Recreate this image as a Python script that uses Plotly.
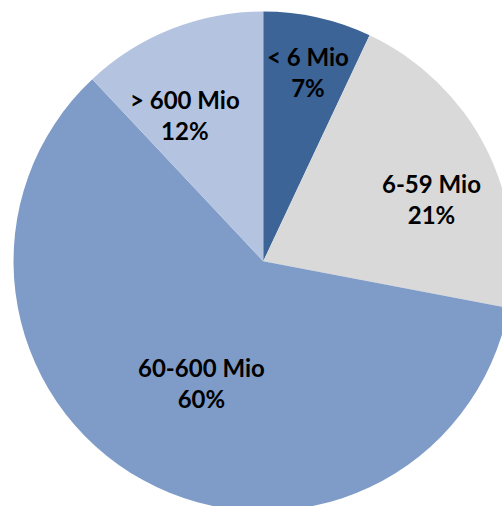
import math
import html
import plotly.graph_objects as go

# Data
categories = ["< 6 Mio", "6-59 Mio", "60-600 Mio", "> 600 Mio"]
values = [7, 21, 60, 12]

# Style
colors = ["#3C6496", "#D9D9D9", "#7F9CC8", "#B4C4E0"]
label_rfrac = [0.78, 0.72, 0.545, 0.665]
label_angle_offset = [0.6, 6.7, -1.9, -6.4]

W, H = 513, 511
x0 = 13.5 / W
ytop = 499.5 / H

fig = go.Figure(go.Pie(
    labels=categories,
    values=values,
    sort=False,
    direction="clockwise",
    rotation=0,
    marker=dict(colors=colors, line=dict(width=0)),
    textinfo="none",
    hoverinfo="label+percent",
    domain=dict(x=[x0, 1], y=[0, ytop]),
    showlegend=False,
))

# label positions computed from the data angles
cx_px = 13.5 + 499.5 / 2
cy_px = (H - 499.5) + 499.5 / 2
R = 499.5 / 2
total = sum(values)
cum = 0
for i, (lab, v) in enumerate(zip(categories, values)):
    mid = (cum + v / 2) / total * 360 + label_angle_offset[i]
    cum += v
    r = R * label_rfrac[i]
    px = cx_px + r * math.sin(math.radians(mid))
    py = cy_px - r * math.cos(math.radians(mid))
    pct = round(v / total * 100)
    fig.add_annotation(
        x=px / W, y=1 - py / H, xref="paper", yref="paper",
        text=f"<b>{html.escape(lab)}</b><br><b>{pct}%</b>",
        showarrow=False, xanchor="center", yanchor="middle", align="center",
        font=dict(family="Lato, Open Sans, sans-serif", size=24, color="#000000"),
    )

fig.update_layout(
    width=W, height=H,
    margin=dict(l=0, r=0, t=0, b=0),
    paper_bgcolor="white", plot_bgcolor="white",
)

fig.write_html(
    "out.html",
    post_script="document.documentElement.style.overflow='hidden';document.body.style.overflow='hidden';document.body.style.margin='0';",
)
